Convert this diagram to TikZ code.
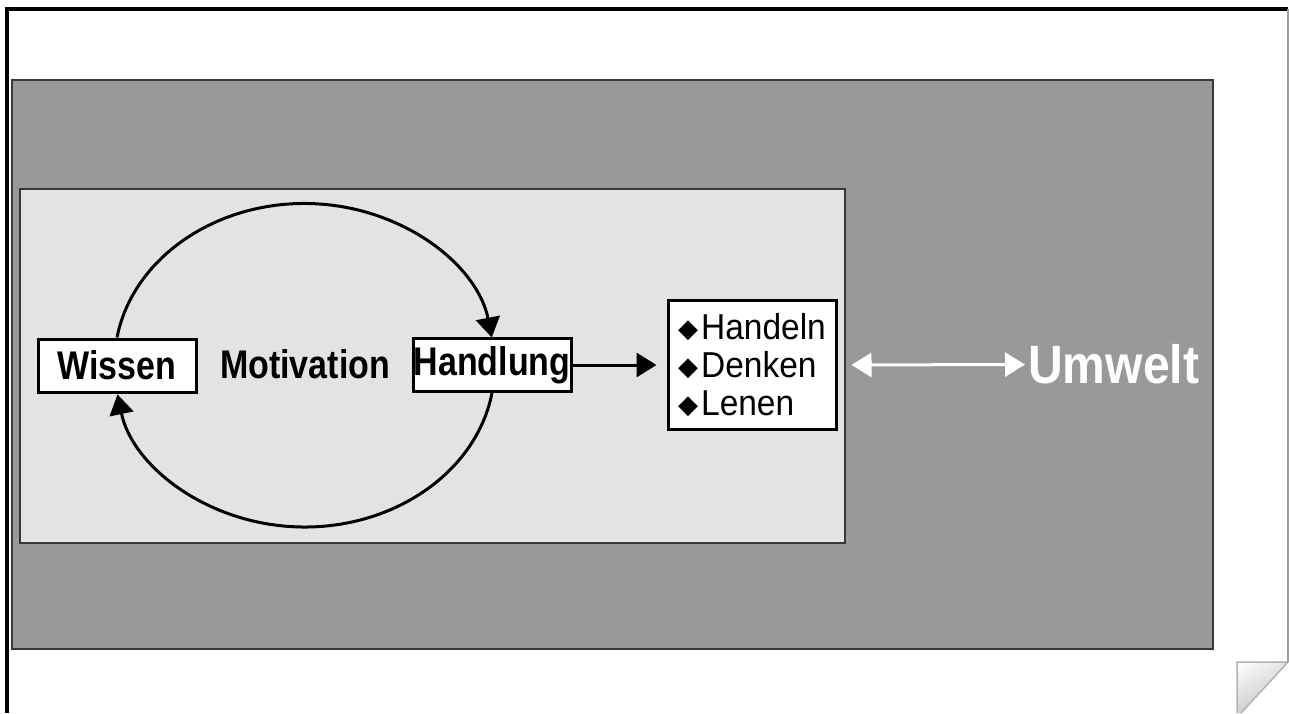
\documentclass[tikz,border=0pt]{standalone}
\usepackage{fontspec}
\setmainfont{Liberation Sans}
\newfontfamily\dejavu{DejaVu Sans}
\usetikzlibrary{arrows.meta,shadings}
\definecolor{dark}{HTML}{999999}
\definecolor{light}{HTML}{E3E3E3}
\definecolor{edge}{HTML}{383838}
\newcommand\sqz[1]{\scalebox{0.85}[1]{#1}}
\newcommand\wsqz[1]{\scalebox{0.89}[1]{#1}}
\newcommand\lsqz[1]{\scalebox{0.93}[1]{#1}}
\newcommand\dia{{\dejavu\fontsize{26}{26}\selectfont\raisebox{1.5pt}{◆}}\hspace{3pt}}
\begin{document}
\begin{tikzpicture}[x=1pt,y=1pt,
  lab/.style={font=\fontsize{40}{44}\selectfont\bfseries, inner sep=0pt},
  box/.style={draw=black, line width=3pt, fill=white, minimum width=158pt, minimum height=53pt, inner sep=0pt, font=\fontsize{40}{44}\selectfont\bfseries},
  conn/.style={line width=3pt, -{Triangle[length=20pt,width=24pt]}},
  dconn/.style={white, line width=3pt, {Triangle[length=20pt,width=24pt]}-{Triangle[length=20pt,width=24pt]}},
]
\useasboundingbox (0,0) rectangle (1289,713);
% page frame
\draw[line width=3.5pt] (7,0) -- (7,704) -- (1288,704);
\draw[gray!75, line width=1.5pt] (1288,704) -- (1288,51);
% folded corner
\shade[upper left=white, lower right=gray!55, upper right=gray!20, lower left=gray!35] (1237,51) -- (1288,51) -- (1241,0) -- (1237,0) -- cycle;
\draw[gray!60, line width=1.5pt] (1237,0) -- (1237,51) -- (1288,51) -- (1241,0);
% backgrounds
\draw[fill=dark, draw=edge, line width=1.5pt] (12,64) rectangle (1213,633);
\draw[fill=light, draw=edge, line width=1.8pt] (20,170) rectangle (845,524);
% nodes
\node[box] (wissen) at (117,347.5) {\sqz{Wissen}};
\node[lab, anchor=base] (motiv) at (305,335) {\sqz{Motivation}};
\node[box] (handlung) at (492,348) {\sqz{Handlung}};
\node[draw=black, line width=3pt, fill=white, minimum width=168pt, minimum height=128pt,
      inner sep=4pt, align=left,
      font=\fontsize{36}{38}\selectfont] (list) at (752,348) {\dia\lsqz{Handeln}\\\dia\lsqz{Denken}\\\dia\lsqz{Lenen}};
\node[lab, font=\fontsize{54}{58}\selectfont\bfseries, text=white, anchor=west] (umwelt) at (1028,348.5) {\wsqz{Umwelt}};
% connectors
\draw[conn] (wissen.north) arc[start angle=170.5, end angle=9.5, x radius=190, y radius=160.5];
\draw[conn] (handlung.south) arc[start angle=-9.5, end angle=-170, x radius=190, y radius=160.5];
\draw[conn, shorten >=10pt] (handlung.east) -- (list.west);
\draw[dconn, shorten <=14pt, shorten >=3pt] (list.east) -- (umwelt.west);
\end{tikzpicture}
\end{document}
